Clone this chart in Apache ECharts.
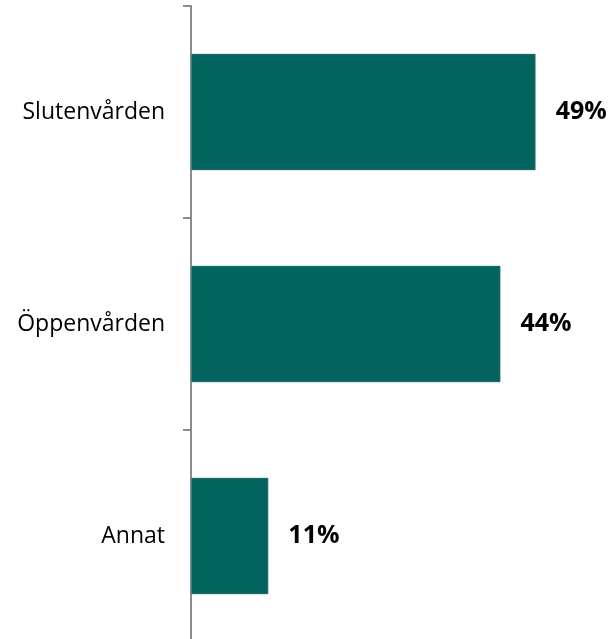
<!DOCTYPE html>
<html>
<head>
<meta charset="utf-8">
<script src="https://cdn.jsdelivr.net/npm/echarts@6/dist/echarts.min.js"></script>
<style>
  html, body { margin: 0; padding: 0; background: #fff; overflow: hidden; }
  #chart { width: 613px; height: 642px; }
</style>
</head>
<body>
<div id="chart"></div>
<script>
  // kategorier och andelar (%)
  var categories = ['Slutenvården', 'Öppenvården', 'Annat'];
  var values = [49, 44, 11];

  var myChart = echarts.init(document.getElementById('chart'));

  var option = {
    animation: false,
    grid: {
      left: 191,
      right: 0,
      top: 6,
      bottom: 0,
      containLabel: false
    },
    xAxis: {
      type: 'value',
      min: 0,
      max: 60,
      show: false
    },
    yAxis: {
      type: 'category',
      data: categories,
      inverse: true,
      axisLine: {
        show: true,
        lineStyle: { color: '#8c8c8c', width: 2 }
      },
      axisTick: {
        show: true,
        alignWithLabel: false,
        length: 8,
        lineStyle: { color: '#8c8c8c', width: 2 }
      },
      axisLabel: {
        margin: 26,
        color: '#000',
        fontSize: 23,
        fontFamily: 'Open Sans'
      }
    },
    series: [
      {
        type: 'bar',
        data: values,
        barCategoryGap: '45%',
        itemStyle: {
          color: '#02635f',
          borderColor: '#6a9f9c',
          borderWidth: 0.5
        },
        label: {
          show: true,
          position: 'right',
          distance: 20,
          formatter: '{c}%',
          color: '#000',
          fontSize: 25,
          fontWeight: 'bold',
          fontFamily: 'Open Sans'
        }
      }
    ]
  };
  myChart.setOption(option);
</script>
</body>
</html>
